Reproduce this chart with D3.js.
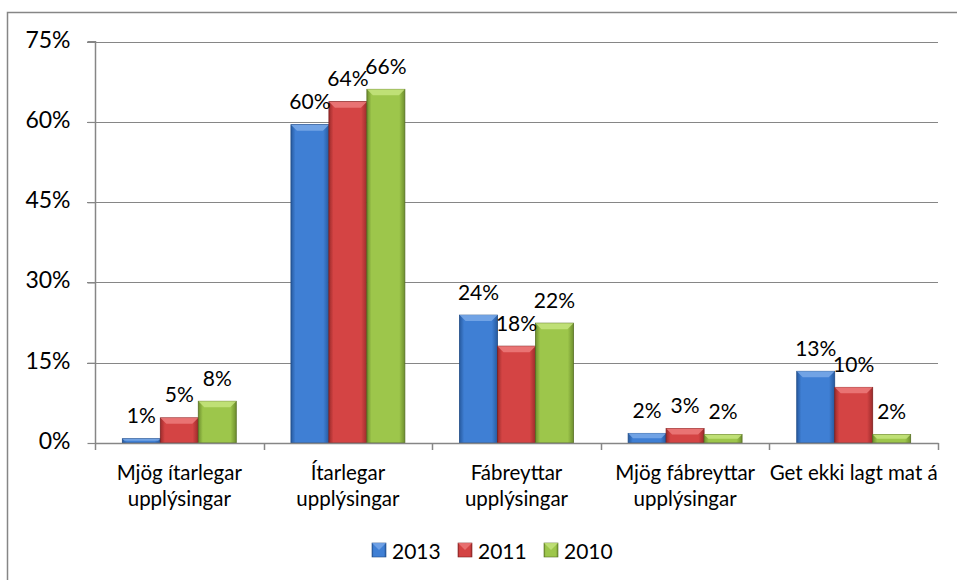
<!DOCTYPE html>
<html>
<head>
<meta charset="utf-8">
<script src="https://cdn.jsdelivr.net/npm/d3@7"></script>
<style>
  html, body { margin: 0; padding: 0; background: #fff; }
  svg { display: block; }
  text { font-family: Lato, "Noto Sans", sans-serif; fill: #000; }
</style>
</head>
<body>
<svg id="chart" width="957" height="580"></svg>
<script>
const categories = [
  ["Mjög ítarlegar", "upplýsingar"],
  ["Ítarlegar", "upplýsingar"],
  ["Fábreyttar", "upplýsingar"],
  ["Mjög fábreyttar", "upplýsingar"],
  ["Get ekki lagt mat á"]
];
const seriesNames = ["2013", "2011", "2010"];
const values2013 = [0.008, 0.595, 0.239, 0.018, 0.134];
const values2011 = [0.047, 0.638, 0.181, 0.027, 0.104];
const values2010 = [0.078, 0.661, 0.224, 0.016, 0.016];
const labels2013 = ["1%", "60%", "24%", "2%", "13%"];
const labels2011 = ["5%", "64%", "18%", "3%", "10%"];
const labels2010 = ["8%", "66%", "22%", "2%", "2%"];
const yTicks = [0, 0.15, 0.30, 0.45, 0.60, 0.75];

const seriesValues = [values2013, values2011, values2010];
const seriesLabels = [labels2013, labels2011, labels2010];
const colors = [
  { mid: "#3f7fd4", edge: "#275a9f", light: "#7aa9e8", dark: "#1f4a85" },
  { mid: "#d44444", edge: "#9c2b2b", light: "#ec7b7b", dark: "#7e2020" },
  { mid: "#9dc64b", edge: "#6e8f2e", light: "#c5e47e", dark: "#566f22" }
];

const svg = d3.select("#chart");
const defs = svg.append("defs");
colors.forEach((c, i) => {
  const g = defs.append("linearGradient").attr("id", "g" + i)
    .attr("x1", "0").attr("x2", "1").attr("y1", "0").attr("y2", "0");
  g.append("stop").attr("offset", "0").attr("stop-color", c.edge);
  g.append("stop").attr("offset", "0.12").attr("stop-color", c.mid);
  g.append("stop").attr("offset", "0.85").attr("stop-color", c.mid);
  g.append("stop").attr("offset", "1").attr("stop-color", c.edge);
});

// outer frame
svg.append("rect").attr("x", 7.5).attr("y", 12.5).attr("width", 1000).attr("height", 1000)
  .attr("fill", "none").attr("stroke", "#868686").attr("stroke-width", 1.5);

const plotLeft = 95, plotRight = 938, plotTop = 41.7, plotBottom = 443;
const x0 = d3.scaleBand().domain(d3.range(categories.length)).range([plotLeft, plotRight]).padding(0);
const x1 = d3.scaleBand().domain(d3.range(seriesNames.length)).range([0, x0.bandwidth()])
  .paddingInner(0).paddingOuter(0.72);
const y = d3.scaleLinear().domain([0, 0.75]).range([plotBottom, plotTop]);

// gridlines
svg.append("g").selectAll("line").data(yTicks.filter(d => d > 0)).join("line")
  .attr("x1", plotLeft - 8).attr("x2", plotRight)
  .attr("y1", d => Math.round(y(d)) + 0.5).attr("y2", d => Math.round(y(d)) + 0.5)
  .attr("stroke", "#868686").attr("stroke-width", 1.2);

// y axis
const yAxis = d3.axisLeft(y).tickValues(yTicks).tickFormat(d3.format(".0%")).tickSize(8).tickPadding(17);
const yg = svg.append("g").attr("transform", `translate(${plotLeft + 0.5},0)`).call(yAxis);
yg.select(".domain").attr("stroke", "#868686").attr("stroke-width", 1.5).attr("d", `M-8,${plotTop}H0V${plotBottom}`);
yg.selectAll(".tick line").attr("stroke", "#868686").attr("stroke-width", 1.2);
yg.selectAll(".tick text").attr("font-size", 23).attr("font-family", "Lato, sans-serif").attr("fill", "#000")
  .attr("dy", "0.3em").attr("y", -1.5);

// bars
const groups = svg.append("g").selectAll("g").data(seriesNames).join("g");
groups.each(function (name, si) {
  const g = d3.select(this);
  const vals = seriesValues[si];
  const c = colors[si];
  vals.forEach((v, ci) => {
    const bx = x0(ci) + x1(si);
    const bw = x1.bandwidth();
    const by = y(v);
    const bh = plotBottom - by;
    g.append("rect").attr("x", bx).attr("y", by).attr("width", bw).attr("height", bh)
      .attr("fill", `url(#g${si})`).attr("stroke", c.dark).attr("stroke-width", 0.8);
    const bev = Math.min(6, bh / 2);
    g.append("path")
      .attr("d", `M${bx},${by}L${bx + bw},${by}L${bx + bw - bev},${by + bev}L${bx + bev},${by + bev}Z`)
      .attr("fill", c.light).attr("opacity", 0.85);
    // data label
    svg.append("text").attr("x", bx + bw / 2).attr("y", by - 24)
      .attr("text-anchor", "middle").attr("dominant-baseline", "central")
      .attr("font-size", 21).text(seriesLabels[si][ci]);
  });
});

// x axis
const xa = svg.append("g");
xa.append("line").attr("x1", plotLeft).attr("x2", plotRight + 0.5)
  .attr("y1", plotBottom + 0.5).attr("y2", plotBottom + 0.5)
  .attr("stroke", "#868686").attr("stroke-width", 1.5);
const bounds = d3.range(categories.length + 1).map(i => i < categories.length ? x0(i) : x0(i - 1) + x0.bandwidth());
xa.selectAll("line.tk").data(bounds).join("line").attr("class", "tk")
  .attr("x1", d => Math.round(d) + 0.5).attr("x2", d => Math.round(d) + 0.5)
  .attr("y1", plotBottom).attr("y2", plotBottom + 7)
  .attr("stroke", "#868686").attr("stroke-width", 1.5);
categories.forEach((lines, i) => {
  const t = xa.append("text").attr("x", x0(i) + x0.bandwidth() / 2).attr("y", 471.7)
    .attr("text-anchor", "middle").attr("font-size", 20.5);
  lines.forEach((ln, j) => {
    t.append("tspan").attr("x", x0(i) + x0.bandwidth() / 2)
      .attr("y", 471.7 + j * 26.5).attr("dominant-baseline", "central").text(ln);
  });
});

// legend
const legendX = [372, 458, 544];
const lg = svg.append("g");
seriesNames.forEach((n, i) => {
  const c = colors[i];
  lg.append("rect").attr("x", legendX[i]).attr("y", 543).attr("width", 14).attr("height", 14)
    .attr("fill", `url(#g${i})`).attr("stroke", c.dark).attr("stroke-width", 0.6);
  lg.append("path").attr("d", `M${legendX[i]},543L${legendX[i] + 14},543L${legendX[i] + 7},550Z`)
    .attr("fill", c.light).attr("opacity", 0.8);
  lg.append("text").attr("x", legendX[i] + 20).attr("y", 550).attr("dominant-baseline", "central")
    .attr("font-size", 21).text(n);
});
</script>
</body>
</html>
